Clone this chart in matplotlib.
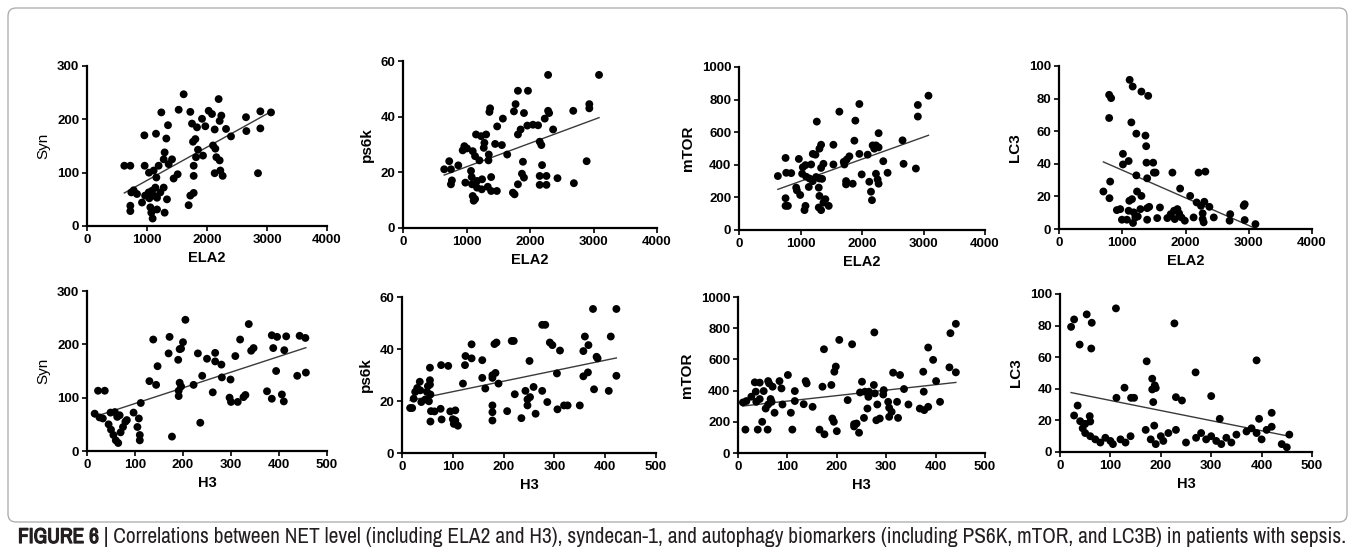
import numpy as np
import matplotlib.pyplot as plt
import matplotlib.patheffects as pe
from matplotlib import font_manager
from matplotlib.patches import FancyBboxPatch

# ---- data ----
ela2_syn = [1611, 2194, 1239, 1528, 1722, 2028, 2083, 2239, 2650, 2889, 3067, 2889, 2656, 2400, 2317, 2211, 2128, 1917, 1972, 1833,
            1750, 1806, 1767, 956, 1150, 1350, 1322, 1294, 1278, 1417, 1361, 1194, 1111, 1033, 961, 722, 622, 1511, 1444, 1156,
            1778, 1817, 1933, 1850, 2100, 2139, 2156, 2211, 2222, 2261, 2128, 2850, 1778, 1778, 1722, 1694, 1278, 1333, 739, 778,
            833, 917, 722, 722, 1028, 1083, 1111, 1167, 968, 1056, 1072, 1094, 1167, 1294, 1039, 1222, 1139]
syn_ela2 = [247, 238, 213, 218, 214, 216, 210, 207, 204, 215, 213, 183, 178, 168, 182, 197, 181, 201, 187, 185,
            192, 163, 158, 170, 173, 189, 164, 138, 125, 125, 116, 113, 104, 100, 113, 113, 113, 97, 89, 91,
            113, 129, 132, 143, 151, 145, 129, 123, 104, 94, 99, 99, 94, 62, 57, 39, 72, 50, 63, 67,
            60, 44, 38, 28, 63, 66, 57, 53, 57, 35, 25, 14, 31, 25, 52, 63, 72]

ela2_ps6k = [2285, 3087, 1810, 1968, 1773, 2934, 2934, 1372, 1361, 1747, 1905, 2285, 2301, 2681, 1573, 2232, 1483, 1958, 2047, 2127,
             2364, 1852, 1810, 1150, 1230, 1309, 1282, 1272, 1451, 1557, 2153, 2179, 966, 1008, 940, 1098, 1135, 1203, 1351, 1346,
             1641, 1889, 2190, 2892, 649, 728, 755, 871, 770, 755, 1071, 1082, 982, 1087, 1166, 1245, 1388, 1166, 1240, 1335,
             1388, 1478, 1098, 1113, 1135, 1731, 1757, 1810, 1873, 1905, 2153, 2259, 2153, 2259, 2433, 2691]
ps6k_ela2 = [55, 55, 49.3, 49.3, 44.5, 44.5, 43, 43, 41.7, 41.9, 41.3, 42.1, 41.3, 42.1, 39.3, 39.3, 36.5, 36.8, 37.1, 36.9,
             35.4, 35.4, 33.6, 33.6, 33, 33.6, 30.6, 28.8, 30.2, 29.8, 31, 29.8, 29.4, 28.6, 27.9, 27.6, 25.8, 24.3, 26.4, 24.3,
             26.4, 23.8, 22.6, 24, 21.1, 24, 21.1, 22.5, 17.1, 15.7, 20.5, 18.3, 16.3, 15.7, 16.9, 17.5, 18.3, 14.5, 13.9, 14.8,
             13.3, 13.3, 11.5, 9.8, 10.4, 12.7, 12.1, 15.7, 19.5, 18.1, 18.7, 18.7, 15.5, 15.5, 17.9, 16.1]

ela2_mtor = [3081, 2908, 2908, 1957, 1632, 1892, 1265, 2270, 2659, 1876, 1335, 1535, 1308, 1200, 1243, 1957, 2092, 2173, 2227, 2270,
             2200, 2346, 2676, 2876, 757, 973, 1535, 1373, 1335, 1173, 1081, 1038, 1714, 1751, 1795, 1703, 632, 768, 849, 1027,
             1092, 1146, 1200, 1254, 1308, 1351, 1995, 2227, 2416, 2254, 2270, 2119, 1741, 1741, 1849, 930, 1135, 1297, 941, 995,
             757, 1308, 2146, 2162, 757, 795, 1081, 1065, 1297, 1335, 1373, 1405, 1459]
mtor_ela2 = [824, 767, 696, 773, 726, 671, 665, 594, 550, 548, 523, 523, 499, 467, 462, 467, 462, 519, 519, 507,
             499, 422, 406, 377, 442, 436, 402, 406, 381, 402, 398, 385, 402, 432, 452, 418, 331, 351, 349, 345,
             327, 316, 300, 325, 316, 314, 341, 345, 351, 310, 284, 296, 300, 280, 284, 260, 264, 260, 243, 215,
             195, 209, 235, 183, 148, 148, 148, 122, 138, 122, 168, 189, 148]

ela2_lc3 = [1117, 1165, 1303, 1410, 793, 824, 793, 1144, 1223, 1367, 1378, 1011, 1011, 1101, 1383, 1489, 1500, 1527, 1793, 2207,
            2314, 1223, 1394, 809, 702, 798, 1234, 1303, 1112, 1154, 1915, 2074, 2176, 2298, 2245, 2378, 2920, 2936, 2707, 915,
            968, 1101, 1181, 1287, 1394, 1426, 1596, 995, 1074, 1170, 1207, 1245, 1394, 1553, 1713, 1766, 1819, 1872, 1899, 1936,
            1989, 1830, 2128, 2271, 2271, 2287, 2447, 2697, 2936, 3106]
lc3_ela2 = [91.5, 87.4, 84.3, 81.7, 82.3, 80.3, 68.1, 65.4, 58.5, 57.3, 50.8, 46.1, 39.6, 41.7, 40.7, 40.7, 34.6, 34.6, 34.6, 34.6,
            35.2, 32.9, 31.1, 29.1, 23, 18.9, 23, 20.3, 17.3, 18.3, 24.8, 20.3, 16.3, 16.7, 14.2, 13.6, 14.2, 15.2, 9.1, 11.6,
            12.2, 11.2, 10.2, 12.2, 12.8, 13.6, 13.2, 5.7, 5.7, 3.7, 7.1, 7.7, 5.7, 6.7, 6.7, 9.1, 11.2, 12.2, 9.6, 7.1,
            5.1, 6.1, 7.1, 9.6, 6.1, 4.1, 7.1, 5.1, 5.5, 3]

h3_syn = [205, 337, 172, 138, 200, 385, 396, 415, 443, 455, 319, 170, 193, 196, 190, 231, 267, 250, 267, 280,
          309, 347, 342, 388, 411, 147, 240, 281, 299, 394, 438, 456, 130, 144, 193, 196, 222, 191, 191, 262,
          375, 385, 406, 410, 297, 300, 314, 326, 330, 23, 37, 16, 26, 33, 49, 58, 63, 68, 83, 97,
          108, 112, 236, 50, 55, 60, 65, 70, 75, 80, 105, 110, 110, 45, 177]
syn_h3 = [246, 238, 214, 209, 204, 217, 214, 215, 216, 212, 209, 183, 191, 192, 171, 183, 184, 173, 168, 162,
          178, 193, 188, 193, 189, 159, 141, 138, 134, 150, 141, 147, 131, 124, 128, 121, 124, 113, 103, 110,
          112, 98, 106, 93, 100, 92, 92, 101, 105, 113, 113, 70, 63, 61, 72, 73, 64, 67, 58, 72,
          61, 90, 53, 40, 30, 20, 15, 35, 45, 55, 45, 30, 20, 50, 27]

h3_ps6k = [376, 422, 276, 282, 360, 411, 137, 182, 186, 216, 220, 291, 296, 367, 311, 357, 125, 137, 124, 383,
           385, 77, 91, 158, 251, 55, 184, 178, 366, 305, 357, 422, 178, 158, 55, 35, 190, 120, 55, 51,
           30, 164, 243, 259, 276, 378, 407, 222, 247, 252, 26, 36, 56, 49, 23, 46, 53, 38, 16, 20,
           57, 76, 64, 95, 105, 178, 178, 207, 247, 263, 286, 319, 326, 350, 306, 56, 78, 105, 102, 178,
           235, 110, 100]
ps6k_h3 = [55.4, 55.4, 49.3, 49.3, 44.8, 44.8, 41.8, 41.9, 42.5, 43.1, 43.1, 42.5, 41.5, 41.5, 39.4, 39.2, 37.3, 36.4, 33.8, 37,
           36.4, 33.8, 33.5, 35.7, 35.4, 32.8, 30.8, 29.9, 31, 30.6, 29.5, 29.7, 28.9, 28.9, 28, 27.4, 26.7, 26.7, 26.3, 25.7,
           25, 24.8, 23.9, 25.4, 23.9, 24.5, 23.9, 22.6, 20.6, 21.5, 23.5, 24.1, 22.5, 23.5, 20.9, 20.6, 19.9, 19.6, 17.3, 17.3,
           16.1, 17, 16, 16, 16.4, 18.3, 15.7, 16.1, 18.3, 15.1, 19.6, 18.3, 18.3, 18.3, 16.8, 12.1, 12.9, 12.5, 11.2, 12.5,
           13.4, 10.5, 13]

h3_mtor = [441, 430, 276, 205, 231, 174, 385, 395, 198, 195, 314, 328, 375, 428, 441, 101, 61, 63, 84, 137,
           139, 401, 171, 189, 70, 88, 115, 251, 275, 277, 295, 336, 376, 44, 34, 52, 36, 27, 17, 10,
           37, 44, 66, 68, 90, 115, 133, 151, 222, 247, 257, 264, 265, 262, 294, 304, 322, 345, 368, 377,
           385, 409, 306, 282, 311, 61, 56, 74, 107, 49, 191, 194, 287, 306, 324, 235, 240, 255, 280, 15,
           40, 60, 110, 165, 200, 235, 245, 175]
mtor_h3 = [828, 768, 773, 725, 697, 665, 676, 597, 554, 521, 515, 500, 521, 549, 517, 500, 461, 446, 461, 461,
           446, 461, 425, 436, 425, 414, 397, 457, 436, 382, 403, 410, 393, 451, 453, 397, 393, 361, 333, 324,
           328, 346, 346, 328, 311, 333, 313, 296, 339, 388, 393, 360, 393, 285, 375, 328, 328, 311, 285, 275,
           296, 328, 290, 311, 264, 311, 285, 258, 258, 200, 221, 200, 221, 232, 225, 185, 189, 225, 210, 150,
           150, 150, 150, 150, 140, 170, 130, 120]

h3_lc3 = [111, 53, 28, 22, 63, 227, 39, 62, 390, 172, 269, 183, 188, 190, 183, 128, 112, 141, 147, 230,
          242, 300, 185, 35, 420, 28, 59, 317, 395, 40, 60, 50, 187,
          45, 50, 60, 70, 80, 90, 100, 105, 120, 130, 140, 170, 180, 190, 200, 205, 215, 230, 250, 270,
          280, 290, 300, 310, 320, 330, 340, 350, 370, 380, 390, 400, 410, 420, 440, 450, 455]
lc3_h3 = [90.9, 87.1, 83.9, 79.2, 81.8, 81.4, 68, 65.5, 58, 57.4, 50.4, 46.4, 42.2, 40.5, 39.6, 40.7, 34.3, 34.3, 34.3, 34.7,
          32.6, 35.4, 31.6, 29.4, 24.8, 23.1, 22.7, 21, 21, 19.5, 19.3, 17.8, 16.7,
          15, 12, 10, 8, 6, 9, 7, 5, 8, 6, 10, 14, 8, 5, 10, 7, 12, 14, 6, 9,
          12, 8, 10, 7, 5, 9, 6, 11, 13, 15, 12, 8, 14, 16, 5, 3, 11]

caption_bold = "FIGURE 6"
caption_rest = (" | Correlations between NET level (including ELA2 and H3), syndecan-1, and autophagy biomarkers "
                "(including PS6K, mTOR, and LC3B) in patients with sepsis.")

# ---- figure ----
W, H = 1355, 556
fig = plt.figure(figsize=(W / 100, H / 100), dpi=100)
plt.rcParams['font.family'] = ['Liberation Sans', 'DejaVu Sans']

panels = [
    (ela2_syn, syn_ela2, 'ELA2', 'Syn', 4000, 1000, 300, 100, (87, 327, 66, 226)),
    (ela2_ps6k, ps6k_ela2, 'ELA2', 'ps6k', 4000, 1000, 60, 20, (403, 657, 61, 228)),
    (ela2_mtor, mtor_ela2, 'ELA2', 'mTOR', 4000, 1000, 1000, 200, (739, 985, 67, 230)),
    (ela2_lc3, lc3_ela2, 'ELA2', 'LC3', 4000, 1000, 100, 20, (1059, 1312, 66, 229)),
    (h3_syn, syn_h3, 'H3', 'Syn', 500, 100, 300, 100, (87, 327, 291, 451)),
    (h3_ps6k, ps6k_h3, 'H3', 'ps6k', 500, 100, 60, 20, (402, 656, 297, 453)),
    (h3_mtor, mtor_h3, 'H3', 'mTOR', 500, 100, 1000, 200, (738, 985, 297, 453)),
    (h3_lc3, lc3_h3, 'H3', 'LC3', 500, 100, 100, 20, (1060, 1312, 294, 452)),
]

for xs, ys, xlab, ylab, xmax, xstep, ymax, ystep, (l, r, t, b) in panels:
    ax = fig.add_axes([l / W, 1 - b / H, (r - l) / W, (b - t) / H])
    xs = np.array(xs, dtype=float)
    ys = np.array(ys, dtype=float)
    ax.scatter(xs, ys, s=32, color='black', edgecolors='none', zorder=3, clip_on=False)
    # linear fit line, as in the original
    k, c = np.polyfit(xs, ys, 1)
    xx = np.array([xs.min(), xs.max()])
    ax.plot(xx, k * xx + c, color='#3a3a3a', lw=1.0, zorder=2)
    ax.set_xlim(0, xmax)
    ax.set_ylim(0, ymax)
    ax.set_xticks(np.arange(0, xmax + 1, xstep))
    ax.set_yticks(np.arange(0, ymax + 1, ystep))
    for s in ['top', 'right']:
        ax.spines[s].set_visible(False)
    for s in ['left', 'bottom']:
        ax.spines[s].set_linewidth(1.6)
    ax.tick_params(direction='out', length=3.5, width=1.2, labelsize=9.5, pad=2)
    for lab in ax.get_xticklabels() + ax.get_yticklabels():
        lab.set_fontweight('bold')
    ax.set_xlabel(xlab, fontsize=10.5, fontweight='bold', labelpad=4)
    ax.set_ylabel(ylab, fontsize=11, fontweight='normal' if ylab == 'Syn' else 'bold', labelpad=5)

# border around the panels
border = FancyBboxPatch((0.08, (H - 522) / 100), 13.39, 5.14,
                        boxstyle='round,pad=0,rounding_size=0.08',
                        transform=fig.dpi_scale_trans, fill=False,
                        edgecolor='#a8a8a8', lw=0.9)
fig.patches.append(border)

# caption
narrow = [f.name for f in font_manager.fontManager.ttflist if 'Narrow' in f.name]
cap_family = [narrow[0], 'DejaVu Sans'] if narrow else ['Liberation Sans', 'DejaVu Sans']
t1 = fig.text(18 / W, 1 - 537 / H, caption_bold, fontsize=15.4, fontweight='bold',
              family=cap_family, color='#231f20', va='center', ha='left',
              path_effects=[pe.withStroke(linewidth=0.9, foreground='#231f20')])
fig.canvas.draw()
bb = t1.get_window_extent()
fig.text(bb.x1 / W, 1 - 537 / H, caption_rest, fontsize=15.4, family=cap_family,
         color='#231f20', va='center', ha='left')

plt.savefig('out.png', dpi=100)
